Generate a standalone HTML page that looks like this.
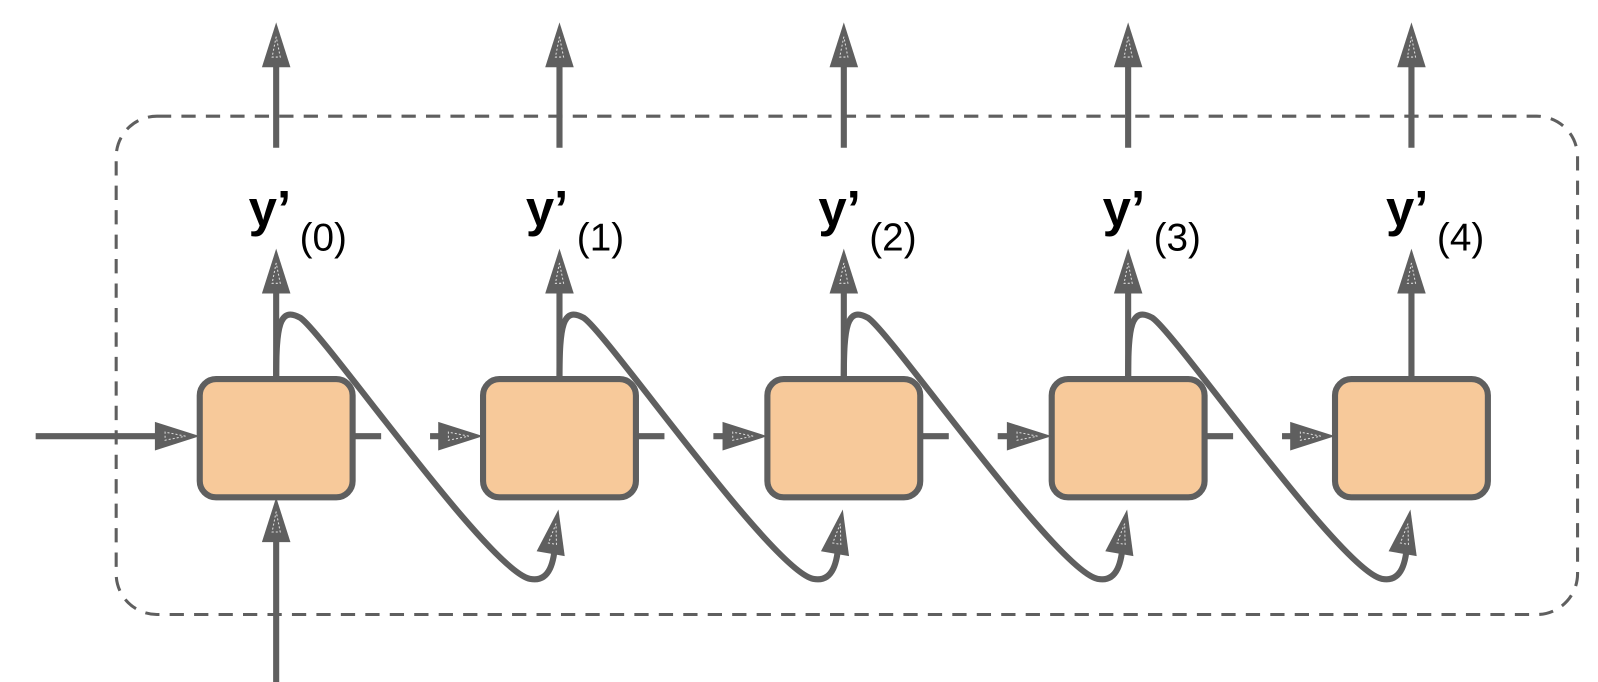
<!DOCTYPE html>
<html><head><meta charset="utf-8"><style>
html,body{margin:0;padding:0;background:#fff;}
svg{display:block;}
text{font-family:"Liberation Sans",sans-serif;fill:#000;}
</style></head><body>
<svg width="1598" height="682" viewBox="0 0 1598 682" xmlns="http://www.w3.org/2000/svg">
<defs>
<g id="ahUp"><polygon points="0,0 -14,44 14,44" fill="#5f5f5f"/><polygon points="0,14 -4,34 4,34" fill="none" stroke="#ddd" stroke-width="1" stroke-dasharray="2,2"/></g>
<g id="ahRight"><polygon points="0,0 -44,-14 -44,14" fill="#5f5f5f"/><polygon points="-14,0 -34,-4 -34,4" fill="none" stroke="#ddd" stroke-width="1" stroke-dasharray="2,2"/></g>
</defs>
<g transform="scale(1.0191)">
<rect x="114" y="114" width="1434" height="489" rx="40" ry="40" fill="none" stroke="#5f5f5f" stroke-width="3" stroke-dasharray="14,10"/>
<g stroke="#5f5f5f" stroke-width="6" fill="none">
<line x1="35" y1="428" x2="160" y2="428"/>
<line x1="271" y1="682" x2="271" y2="520"/>
</g>
<use href="#ahRight" x="196" y="428"/>
<use href="#ahUp" x="271" y="488"/>
<g stroke="#5f5f5f" stroke-width="6" fill="none">
<line x1="271" y1="372" x2="271" y2="280"/><line x1="271" y1="145" x2="271" y2="60"/>
<line x1="549" y1="372" x2="549" y2="280"/><line x1="549" y1="145" x2="549" y2="60"/>
<line x1="828" y1="372" x2="828" y2="280"/><line x1="828" y1="145" x2="828" y2="60"/>
<line x1="1107" y1="372" x2="1107" y2="280"/><line x1="1107" y1="145" x2="1107" y2="60"/>
<line x1="1385" y1="372" x2="1385" y2="280"/><line x1="1385" y1="145" x2="1385" y2="60"/>
<line x1="346" y1="428" x2="374" y2="428"/><line x1="422" y1="428" x2="440" y2="428"/>
<line x1="624" y1="428" x2="652" y2="428"/><line x1="700" y1="428" x2="718" y2="428"/>
<line x1="903" y1="428" x2="931" y2="428"/><line x1="979" y1="428" x2="997" y2="428"/>
<line x1="1182" y1="428" x2="1210" y2="428"/><line x1="1258" y1="428" x2="1276" y2="428"/>
<path d="M271,372 C271,320 274,300 295,312 C320,330 480,560 520,568 C540,572 544,550 545,530"/>
<path d="M549,372 C549,320 552,300 573,312 C598,330 758,560 798,568 C818,572 822,550 823,530"/>
<path d="M828,372 C828,320 831,300 852,312 C877,330 1037,560 1077,568 C1097,572 1101,550 1102,530"/>
<path d="M1107,372 C1107,320 1110,300 1131,312 C1156,330 1316,560 1356,568 C1376,572 1380,550 1381,530"/>
</g>
<g fill="#f7c99a" stroke="#5f5f5f" stroke-width="6">
<rect x="196" y="372" width="150" height="116" rx="16"/>
<rect x="474" y="372" width="150" height="116" rx="16"/>
<rect x="753" y="372" width="150" height="116" rx="16"/>
<rect x="1032" y="372" width="150" height="116" rx="16"/>
<rect x="1310" y="372" width="150" height="116" rx="16"/>
</g>
<use href="#ahUp" x="271" y="244"/><use href="#ahUp" x="271" y="22"/>
<use href="#ahUp" x="549" y="244"/><use href="#ahUp" x="549" y="22"/>
<use href="#ahUp" x="828" y="244"/><use href="#ahUp" x="828" y="22"/>
<use href="#ahUp" x="1107" y="244"/><use href="#ahUp" x="1107" y="22"/>
<use href="#ahUp" x="1385" y="244"/><use href="#ahUp" x="1385" y="22"/>
<use href="#ahRight" x="474" y="428"/>
<use href="#ahRight" x="753" y="428"/>
<use href="#ahRight" x="1032" y="428"/>
<use href="#ahRight" x="1310" y="428"/>
<g transform="rotate(10 548 500)"><use href="#ahUp" x="548" y="500"/></g>
<g transform="rotate(10 827 500)"><use href="#ahUp" x="827" y="500"/></g>
<g transform="rotate(10 1106 500)"><use href="#ahUp" x="1106" y="500"/></g>
<g transform="rotate(10 1384 500)"><use href="#ahUp" x="1384" y="500"/></g>
<g font-size="50" font-weight="bold">
<text x="244" y="222">y’</text><text x="516" y="222">y’</text><text x="803" y="222">y’</text><text x="1082" y="222">y’</text><text x="1360" y="222">y’</text>
</g>
<g font-size="38">
<text x="294" y="246">(0)</text><text x="566" y="246">(1)</text><text x="853" y="246">(2)</text><text x="1132" y="246">(3)</text><text x="1410" y="246">(4)</text>
</g>
</g>
</svg>
</body></html>
